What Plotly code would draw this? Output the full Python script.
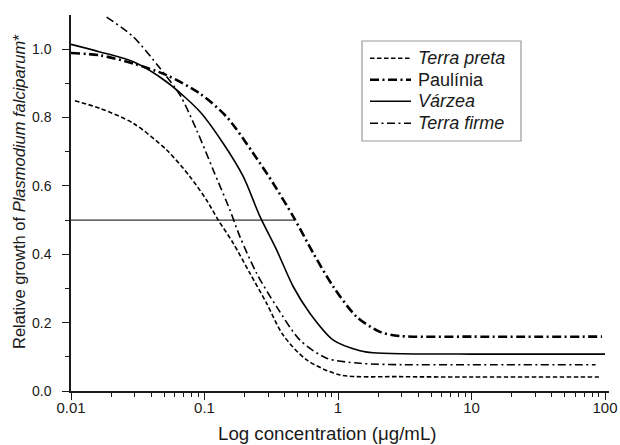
import plotly.graph_objects as go

# ---- data ----
terra_preta_x = [0.0107, 0.01648, 0.02931, 0.05212, 0.07786, 0.1038, 0.1268, 0.1643, 0.2192, 0.2922, 0.389, 0.583, 1.035, 2.9, 10, 90]
terra_preta_y = [0.849, 0.827, 0.783, 0.705, 0.627, 0.558, 0.500, 0.432, 0.344, 0.256, 0.163, 0.091, 0.047, 0.042, 0.041, 0.041]

paulinia_x = [0.01, 0.01648, 0.02931, 0.05212, 0.0925, 0.1465, 0.2322, 0.3276, 0.4625, 0.6535, 0.9227, 1.380, 2.064, 2.9, 10, 95]
paulinia_y = [0.989, 0.982, 0.958, 0.924, 0.870, 0.802, 0.695, 0.607, 0.510, 0.403, 0.305, 0.217, 0.173, 0.161, 0.159, 0.159]

varzea_x = [0.01, 0.01648, 0.02931, 0.05212, 0.0925, 0.1383, 0.1953, 0.2606, 0.3475, 0.4625, 0.6172, 0.9227, 1.462, 1.837, 3.0, 10, 100]
varzea_y = [1.014, 0.992, 0.963, 0.904, 0.817, 0.724, 0.627, 0.510, 0.412, 0.305, 0.227, 0.149, 0.118, 0.112, 0.109, 0.108, 0.108]

terra_firme_x = [0.01849, 0.02931, 0.04645, 0.06553, 0.0874, 0.1164, 0.1552, 0.1845, 0.246, 0.3475, 0.5193, 0.8222, 1.462, 3.0, 10, 85]
terra_firme_y = [1.094, 1.036, 0.944, 0.866, 0.763, 0.646, 0.529, 0.451, 0.344, 0.246, 0.149, 0.096, 0.081, 0.077, 0.077, 0.077]

half_x = [0.01, 0.47]
half_y = [0.5, 0.5]

series_names = ["<i>Terra preta</i>", "Paulínia", "<i>Várzea</i>", "<i>Terra firme</i>"]

x_tick_vals = [0.01, 0.1, 1, 10, 100]
x_tick_text = ["0.01", "0.1", "1", "10", "100"]
x_minor_vals = [m * d for d in (0.01, 0.1, 1, 10) for m in range(2, 10)]
y_tick_vals = [0, 0.2, 0.4, 0.6, 0.8, 1.0]
y_tick_text = ["0.0", "0.2", "0.4", "0.6", "0.8", "1.0"]
y_minor_vals = [0.1, 0.3, 0.5, 0.7, 0.9]

FONT = "Liberation Sans, Arial, sans-serif"
INK = "#1a1a1a"

styles = [
    dict(color="black", width=1.6, dash="4.5px,2.5px"),
    dict(color="black", width=2.6, dash="9px,3.5px,2px,3.5px"),
    dict(color="black", width=1.6, dash="solid"),
    dict(color="black", width=1.6, dash="8px,3.5px,2px,3.5px"),
]
series = [(terra_preta_x, terra_preta_y), (paulinia_x, paulinia_y),
          (varzea_x, varzea_y), (terra_firme_x, terra_firme_y)]

fig = go.Figure()
fig.add_trace(go.Scatter(x=half_x, y=half_y, mode="lines", showlegend=False,
                         line=dict(color="#333333", width=1.1)))
for (xs, ys), st, nm in zip(series, styles, series_names):
    fig.add_trace(go.Scatter(x=xs, y=ys, mode="lines", name=nm, showlegend=False,
                             line=dict(shape="spline", smoothing=0.8, **st)))

# ---- hand-drawn legend (pixel layout converted to paper coords) ----
PL, PR, PT, PB = 71, 609, 15, 391
def px(v):
    return (v - PL) / (PR - PL)
def py(v):
    return (PB - v) / (PB - PT) * 1.0

shapes = [dict(type="rect", xref="paper", yref="paper",
               x0=px(362), x1=px(521), y0=py(141), y1=py(41),
               line=dict(color="#9a9a9a", width=1.2), fillcolor="white", layer="above")]
annotations = []
row_y = [58.3, 79.7, 101.3, 123.3]
for ry, st, nm in zip(row_y, styles, series_names):
    shapes.append(dict(type="line", xref="paper", yref="paper",
                       x0=px(370), x1=px(411), y0=py(ry), y1=py(ry),
                       line=dict(color=st["color"], width=st["width"], dash=st["dash"]),
                       layer="above"))
    annotations.append(dict(xref="paper", yref="paper", x=px(416), y=py(ry),
                            xanchor="left", yanchor="middle", showarrow=False,
                            text=nm, font=dict(size=18, family=FONT, color=INK)))

# axis titles
annotations.append(dict(xref="paper", yref="paper", x=px(327), y=py(433),
                        xanchor="center", yanchor="middle", showarrow=False,
                        text="Log concentration (μg/mL)",
                        font=dict(size=18.7, family=FONT, color=INK)))
annotations.append(dict(xref="paper", yref="paper", x=px(18.5), y=py(191.5),
                        xanchor="center", yanchor="middle", showarrow=False, textangle=-90,
                        text="Relative growth of <i>Plasmodium falciparum</i>*",
                        font=dict(size=16.5, family=FONT, color=INK)))

fig.update_layout(
    width=620, height=445,
    margin=dict(l=PL, r=620 - PR, t=PT, b=445 - PB, autoexpand=False),
    paper_bgcolor="white", plot_bgcolor="white",
    font=dict(family=FONT, color=INK, size=14),
    showlegend=False,
    shapes=shapes, annotations=annotations,
    xaxis=dict(type="log", range=[-2, 2.03], tickvals=x_tick_vals, ticktext=x_tick_text,
               automargin=False,
               showgrid=False, zeroline=False, showline=True, linecolor=INK, linewidth=1.5,
               ticks="outside", ticklen=7, tickwidth=1.3, tickcolor=INK,
               tickfont=dict(size=15), ticklabelstandoff=-5,
               minor=dict(tickvals=x_minor_vals, ticks="outside", ticklen=4.5, tickwidth=1.2,
                          tickcolor=INK, showgrid=False)),
    yaxis=dict(range=[0, 1.1], tickvals=y_tick_vals, ticktext=y_tick_text,
               automargin=False,
               showgrid=False, zeroline=False, showline=True, linecolor=INK, linewidth=1.5,
               ticks="outside", ticklen=7, tickwidth=1.3, tickcolor=INK,
               tickfont=dict(size=14), ticklabelstandoff=8,
               minor=dict(tickvals=y_minor_vals, ticks="outside", ticklen=4,
                          tickwidth=1.2, tickcolor=INK, showgrid=False)),
)

fig.write_html("out.html", config={"displayModeBar": False},
               post_script="document.body.style.margin='0';document.body.style.overflow='hidden';")
